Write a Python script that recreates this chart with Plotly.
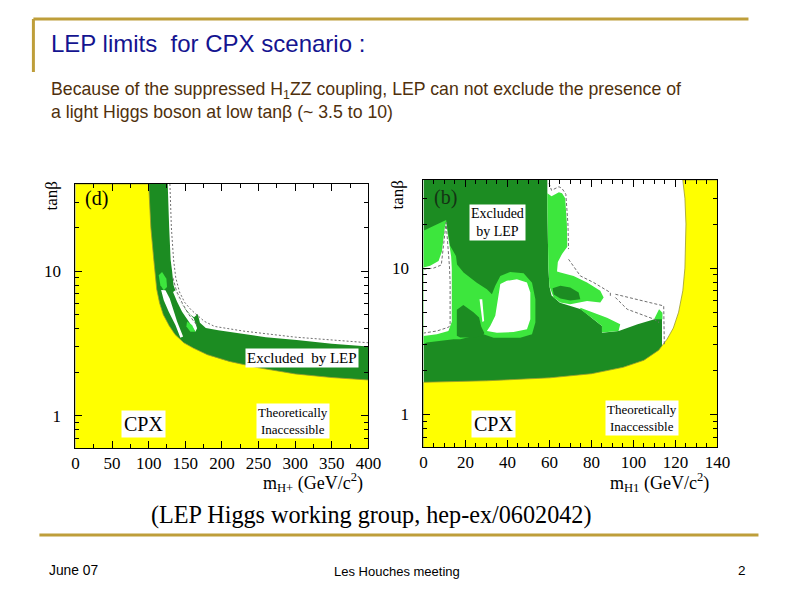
import math
import plotly.graph_objects as go

# figure size; page positions below are given in reference-slide pixels
W, H = 776, 577
SX, OX = 0.978, 11.6   # observed horizontal placement of the figure in the page
OY = 8

# ---------------- Panel (d): tan(beta) vs m_H+ ----------------
d_yellow_x = [0, 0, 100, 103, 107, 111, 115, 120, 128, 136, 148, 161, 180, 210, 250, 300, 350, 400, 400]
d_yellow_y = [0.6, 40, 40, 20, 12, 7.5, 6.0, 5.0, 4.2, 3.65, 3.2, 2.94, 2.65, 2.38, 2.15, 1.95, 1.84, 1.77, 0.6]

d_excl_x = [95, 126, 128, 130, 132, 134, 138, 143, 150, 157, 162, 167, 170, 178, 195, 225, 260, 302, 350, 400, 400, 95]
d_excl_y = [40, 40, 20, 12, 10, 8, 7, 6.1, 5.5, 5.0, 4.8, 5.05, 4.4, 4.05, 3.9, 3.72, 3.5, 3.35, 3.15, 3.02, 0.6, 0.6]

d_lg1_x = [113.7, 118.3, 124.2, 125.1, 120.6, 116]
d_lg1_y = [9.35, 9.85, 8.87, 7.77, 7.38, 7.98]
d_lg2_x = [152.4, 159.2, 163.8, 157, 151.5]
d_lg2_y = [4.48, 4.25, 3.82, 3.82, 4.14]

d_holeA_x = [117, 120.6, 127.4, 136.5, 143.3, 147, 138.8, 133.3, 128.8, 122.9]
d_holeA_y = [7.4, 6.3, 5.24, 4.25, 3.47, 3.53, 4.48, 5.38, 6.47, 7.38]
d_holeB_x = [136.5, 143.3, 152.4, 161.5, 166.1, 163.8, 154.7, 145.6, 138.8, 133.3]
d_holeB_y = [7.38, 6.13, 5.24, 4.72, 4.03, 3.82, 4.48, 5.24, 6.14, 7.18]

d_cl_x = [129, 131, 134, 137, 142, 149, 158, 168, 176, 190, 230, 300, 400]
d_cl_y = [40, 20, 12, 9, 7.2, 6.1, 5.4, 4.9, 4.5, 4.15, 3.85, 3.5, 3.2]
d_dash_x = [133, 138, 146, 155, 163, 168]
d_dash_y = [9.0, 7.3, 6.0, 5.0, 4.4, 4.2]

# ---------------- Panel (b): tan(beta) vs m_H1 ----------------
b_yellow_x = [0, 0, 30, 60, 80, 95, 105, 112, 116, 119, 121.5, 123.5, 124.5, 125, 124.5, 123.5, 140, 140]
b_yellow_y = [0.6, 1.66, 1.70, 1.78, 1.9, 2.1, 2.35, 2.75, 3.27, 3.9, 5, 7, 10, 20, 30, 40, 40, 0.6]

b_excl_x = [0, 0, 59, 59, 59.5, 60, 61, 65, 75, 81, 85, 85, 93, 102, 110, 113.6, 113.6]
b_excl_y = [0.6, 40, 40, 26, 10, 7.5, 6.5, 5.8, 5.24, 4.48, 4.03, 3.62, 3.72, 4.13, 4.48, 4.72, 0.6]

b_lgA_x = [0, 4.8, 8.75, 10.8, 12.7, 15.5, 16, 19.1, 25.4, 30.2, 32.6, 34.2, 36.6, 41.3, 47.7, 51.7, 53.3,
           53.3, 51.7, 46.1, 33.4, 28.6, 23.8, 17.5, 14.3, 8.0, 1.6, 0]
b_lgA_y = [18.0, 19.5, 20.6, 21.3, 14.2, 12.1, 10.6, 9.33, 7.96, 7.18, 6.63, 7.57, 8.85, 9.42, 9.23, 7.96, 6.14,
           4.25, 3.53, 3.35, 3.35, 3.53, 3.44, 3.27, 3.27, 3.18, 3.10, 3.02]

b_dkA_x = [15.9, 19, 23.8, 26.5, 27.5, 29, 28, 23.8, 17.5, 15.9]
b_dkA_y = [5.2, 5.6, 5.0, 4.6, 4.0, 3.6, 3.42, 3.36, 3.36, 3.45]

b_lg1_x = [59, 61, 64.5, 66, 67.5, 68.3, 68.5, 66, 64, 63.6, 65.2, 71.5, 77.9, 84.2, 85.8, 84.2, 77.9, 69.9,
           65.2, 62, 60, 59.5, 59]
b_lg1_y = [32.5, 31, 33, 32.5, 30, 20, 14, 12.5, 11, 9.5, 9.33, 8.85, 7.98, 7.0, 6.3, 5.82, 5.97, 5.66,
           5.82, 6.3, 7.5, 10, 26]

b_blob_x = [61.5, 65.2, 69.9, 73.9, 74.7, 69.9, 65.2, 62]
b_blob_y = [7.3, 7.57, 7.36, 6.81, 6.14, 6.0, 6.2, 6.6]

b_lg2_x = [74.7, 81.0, 87.4, 93.7, 92.9, 85.0, 85.0, 81.0, 74.7]
b_lg2_y = [5.37, 4.96, 4.59, 4.13, 3.72, 3.63, 4.03, 4.48, 5.24]

b_lg3_x = [109.8, 112.2, 113.8, 113.8]
b_lg3_y = [4.48, 5.24, 4.95, 4.48]

b_holeL_x = [0, 3.2, 7.2, 8.8, 10.2, 10.8, 11.6, 12.4, 13.2, 13.5, 13.6, 13.5, 11.9, 6.4, 0]
b_holeL_y = [10.1, 10.4, 11.2, 13, 19, 20.6, 17, 14, 12, 10, 7, 4.3, 3.72, 3.53, 3.44]
b_holeC_x = [30.2, 31.8, 34.2, 35.8, 36.6, 39.7, 44.5, 49.3, 50.9, 50.9, 49.3, 42.9, 35.0]
b_holeC_y = [3.72, 4.03, 4.72, 6.47, 7.78, 8.19, 8.41, 7.98, 6.81, 4.48, 3.82, 3.66, 3.62]
b_holeS_x = [26.7, 28.0, 28.9, 28.1]
b_holeS_y = [6.14, 6.14, 4.36, 4.29]

b_dashL_x = [0, 4.8, 8.5, 10.8, 12.4, 12.7, 12.7, 12.0, 6.4, 0]
b_dashL_y = [9.84, 10.0, 10.5, 20.5, 10.2, 8, 4.1, 3.95, 3.72, 3.6]
b_dashT_x = [59.8, 61, 64.5, 66, 67.8, 68.8, 69.1]
b_dashT_y = [38, 34, 36, 35, 32, 20, 13.5]
b_dash1_x = [69.1, 74.7, 81.0, 89.0, 89.0]
b_dash1_y = [11.5, 8.85, 7.98, 6.81, 6.46]
b_dash2_x = [91.4, 114.4, 114.7]
b_dash2_y = [6.63, 5.52, 2.94]
b_dash3_x = [91.4, 97.0, 109.8, 112.2]
b_dash3_y = [6.30, 5.24, 4.48, 4.25]

# axis ticks
d_xticks = [0, 50, 100, 150, 200, 250, 300, 350, 400]
b_xticks = [0, 20, 40, 60, 80, 100, 120, 140]
y_ticks = [1, 10]
y_minor = [0.6, 0.7, 0.8, 0.9, 2, 3, 4, 5, 6, 7, 8, 9, 20, 30, 40]

YELLOW = "#FFFF00"
DARK = "#1C8C22"
LIGHT = "#3DE63D"
WHITE = "#FFFFFF"

fig = go.Figure()


def poly(xs, ys, color, ax, line=None):
    xa, ya = ax
    fig.add_trace(go.Scatter(x=xs, y=ys, fill="toself", fillcolor=color, mode="lines",
                             line=line or dict(width=0, color=color), hoverinfo="skip",
                             showlegend=False, xaxis=xa, yaxis=ya))


def dline(xs, ys, ax, dash="3px,2px"):
    xa, ya = ax
    fig.add_trace(go.Scatter(x=xs, y=ys, mode="lines", line=dict(width=1, color="#707070", dash=dash),
                             hoverinfo="skip", showlegend=False, xaxis=xa, yaxis=ya))


L = ("x", "y")
R = ("x2", "y2")

# left panel
poly(d_excl_x, d_excl_y, DARK, L)
poly(d_lg1_x, d_lg1_y, LIGHT, L)
poly(d_holeA_x, d_holeA_y, WHITE, L)
poly(d_holeB_x, d_holeB_y, WHITE, L)
poly(d_lg2_x, d_lg2_y, LIGHT, L)
poly(d_yellow_x, d_yellow_y, YELLOW, L, line=dict(width=0.8, color="#9A9A30"))
dline(d_cl_x, d_cl_y, L, dash="2px,2px")
dline(d_dash_x, d_dash_y, L)

# right panel
poly(b_excl_x, b_excl_y, DARK, R)
poly(b_lgA_x, b_lgA_y, LIGHT, R)
poly(b_dkA_x, b_dkA_y, DARK, R)
poly(b_lg1_x, b_lg1_y, LIGHT, R)
poly(b_blob_x, b_blob_y, DARK, R)
poly(b_lg2_x, b_lg2_y, LIGHT, R)
poly(b_lg3_x, b_lg3_y, LIGHT, R)
poly(b_holeL_x, b_holeL_y, WHITE, R)
poly(b_holeC_x, b_holeC_y, WHITE, R)
poly(b_holeS_x, b_holeS_y, WHITE, R)
poly(b_yellow_x, b_yellow_y, YELLOW, R, line=dict(width=0.8, color="#9A9A30"))
dline(b_dashL_x, b_dashL_y, R)
dline(b_dashT_x, b_dashT_y, R)
dline(b_dash1_x, b_dash1_y, R)
dline(b_dash2_x, b_dash2_y, R)
dline(b_dash3_x, b_dash3_y, R)

SERIF = "Liberation Serif"
SANS = "Liberation Sans"
tickfont = dict(family=SERIF, size=17, color="black")


def fx(px_):
    return ((px_ - OX) / SX) / W


def fy(py_):
    return 1 - (py_ - OY) / H


def xaxis(dom, rng, ticks, minor_dt, anchor):
    return dict(domain=dom, range=rng, anchor=anchor, showline=True, linecolor="black", linewidth=1,
                mirror="allticks", ticks="inside", ticklen=7, tickcolor="black", tickvals=ticks,
                minor=dict(dtick=minor_dt, ticks="inside", ticklen=4, tickcolor="black"),
                tickfont=tickfont, showgrid=False, zeroline=False, ticklabelstandoff=0)


def yaxis(dom, anchor):
    return dict(domain=dom, type="log", range=[math.log10(0.6), math.log10(40)], anchor=anchor,
                showline=True, linecolor="black", linewidth=1, mirror="allticks", ticks="inside",
                ticklen=7, tickcolor="black", tickvals=y_ticks, ticktext=[str(v) for v in y_ticks],
                minor=dict(tickvals=y_minor, ticks="inside", ticklen=4, tickcolor="black"),
                tickfont=dict(family=SERIF, size=17, color="black"), showgrid=False, zeroline=False,
                ticklabelstandoff=10)


ann = []


def text(px_, py_, t, size, family=SANS, color="black", xanchor="center", bg=None, textangle=0, pad=1):
    d = dict(x=fx(px_), y=fy(py_), xref="paper", yref="paper", text=t, showarrow=False, xanchor=xanchor,
             yanchor="middle", font=dict(family=family, size=size, color=color), textangle=textangle)
    if bg:
        d.update(bgcolor=bg, borderpad=pad)
    ann.append(d)


text(49, 43, "LEP limits\u00a0\u00a0for CPX scenario :", 24, color="#141490", xanchor="left")
text(49, 90, "Because of the suppressed H<sub>1</sub>ZZ coupling, LEP can not exclude the presence of", 17.7,
     color="#4F300C", xanchor="left")
text(49, 112, "a light Higgs boson at low tanβ (~ 3.5 to 10)", 17.7, color="#4F300C", xanchor="left")

# left panel labels
text(96, 198, "(d)", 20, family=SERIF)
text(302, 358, "Excluded\u00a0\u00a0by LEP", 15, family=SERIF, bg="white")
text(143, 424, "CPX", 20, family=SERIF, bg="white", pad=2)
text(293, 421, "Theoretically<br>Inaccessible", 13, family=SERIF, bg="white")
text(51, 196, "tanβ", 17, family=SERIF, textangle=-90)
text(313, 482, "m<sub>H+</sub> (GeV/c<sup>2</sup>)", 18, family=SERIF)

# right panel labels
text(445, 197, "(b)", 20, family=SERIF, color="#143314")
text(497, 223, "Excluded<br>by LEP", 14, family=SERIF, bg="white")
text(493, 424, "CPX", 20, family=SERIF, bg="white", pad=2)
text(642, 418, "Theoretically<br>Inaccessible", 13, family=SERIF, bg="white")
text(398, 195, "tanβ", 17, family=SERIF, textangle=-90)
text(659, 482, "m<sub>H1</sub> (GeV/c<sup>2</sup>)", 18, family=SERIF)

text(371, 515, "(LEP Higgs working group, hep-ex/0602042)", 24.2, family=SERIF)
text(47, 570, "June 07", 13.8, xanchor="left")
text(397, 571, "Les Houches meeting", 13)
text(742, 570, "2", 13.5)

GOLD = "#BE9E3A"
shapes = [
    dict(type="line", xref="paper", yref="paper", x0=fx(33), x1=fx(748), y0=fy(19), y1=fy(19),
         line=dict(color=GOLD, width=3)),
    dict(type="line", xref="paper", yref="paper", x0=fx(33), x1=fx(33), y0=fy(19), y1=fy(72),
         line=dict(color=GOLD, width=3)),
    dict(type="line", xref="paper", yref="paper", x0=fx(39), x1=fx(758), y0=fy(535), y1=fy(535),
         line=dict(color=GOLD, width=3)),
]

fig.update_layout(
    width=W, height=H, margin=dict(l=0, r=0, t=0, b=0),
    paper_bgcolor="white", plot_bgcolor="white", showlegend=False,
    xaxis=xaxis([fx(75), fx(368)], [0, 400], d_xticks, 25, "y"),
    yaxis=yaxis([fy(448), fy(184)], "x"),
    xaxis2=xaxis([fx(423), fx(717)], [0, 140], b_xticks, 5, "y2"),
    yaxis2=yaxis([fy(447), fy(180)], "x2"),
    annotations=ann, shapes=shapes,
)

fig.write_html("out.html")
